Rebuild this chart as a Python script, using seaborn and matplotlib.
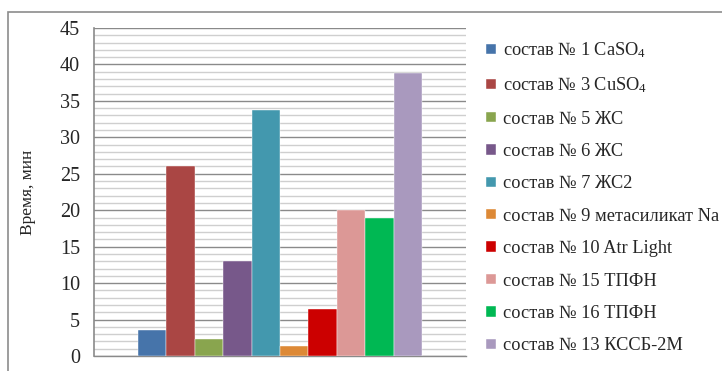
import matplotlib
matplotlib.use("Agg")
import matplotlib.pyplot as plt
from matplotlib.patches import Rectangle
from matplotlib.ticker import MultipleLocator
import seaborn as sns
import pandas as pd

# Составы и время (мин)
labels = [
    "состав № 1 CaSO$_4$",
    "состав № 3 CuSO$_4$",
    "состав № 5 ЖС",
    "состав № 6 ЖС",
    "состав № 7 ЖС2",
    "состав № 9 метасиликат Na",
    "состав № 10 Atr Light",
    "состав № 15 ТПФН",
    "состав № 16 ТПФН",
    "состав № 13 КССБ-2М",
]
times = [3.6, 26.1, 2.4, 13.1, 33.8, 1.4, 6.5, 20.0, 19.0, 38.8]
colors = ["#4674AA", "#AA4644", "#89A54E", "#77588A", "#4398AE",
          "#DD8936", "#CC0000", "#DC9896", "#00B853", "#A999BE"]
y_ticks = [0, 5, 10, 15, 20, 25, 30, 35, 40, 45]
y_label = "Время, мин"

df = pd.DataFrame({"group": [""] * len(labels), "label": labels, "time": times})

sns.set_style("white")
plt.rcParams["font.family"] = ["Liberation Serif", "DejaVu Serif"]
plt.rcParams["mathtext.fontset"] = "custom"
plt.rcParams["mathtext.rm"] = "Liberation Serif"
plt.rcParams["mathtext.it"] = "Liberation Serif:italic"

fig = plt.figure(figsize=(7.22, 3.71), dpi=100)
ax = fig.add_axes([94 / 722, 1 - 356 / 371, 372 / 722, 328 / 371])

sns.barplot(data=df, x="group", y="time", hue="label", hue_order=labels,
            palette=colors, width=0.766, dodge=True, saturation=1,
            edgecolor="white", linewidth=0.3, ax=ax, zorder=3)

ax.set_xlim(-0.5, 0.5)
ax.set_ylim(0, 45)
ax.set_yticks(y_ticks)
ax.yaxis.set_minor_locator(MultipleLocator(1))
ax.grid(axis="y", which="major", color="#8a8a8a", linewidth=1.0, zorder=1)
ax.grid(axis="y", which="minor", color="#cfcfcf", linewidth=1.0, zorder=0)
ax.set_axisbelow(True)
ax.set_xticks([])
ax.set_xlabel("")
ax.set_ylabel(y_label, fontsize=12.5, labelpad=17)
ax.tick_params(axis="y", which="major", direction="out", length=5,
               width=1, color="#8a8a8a", labelsize=14.5, pad=5)
ax.tick_params(axis="y", which="minor", length=0)
for side in ["top", "right"]:
    ax.spines[side].set_visible(False)
ax.spines["left"].set_color("#8a8a8a")
ax.spines["left"].set_linewidth(1.2)
ax.spines["bottom"].set_color("#8a8a8a")
ax.spines["bottom"].set_linewidth(1.0)

handles, hl = ax.get_legend_handles_labels()
if ax.get_legend() is not None:
    ax.get_legend().remove()
fig.legend(handles, hl, loc="upper left",
           bbox_to_anchor=(479 / 722, 1 - 33 / 371),
           frameon=False, fontsize=13.2, handlelength=0.5, handleheight=0.5,
           handletextpad=0.4, labelspacing=0.84, borderaxespad=0)

# Chart border
fig.patches.append(Rectangle((8 / 722, -0.05), 1.0, 1 - 12 / 371 + 0.05,
                             transform=fig.transFigure, fill=False,
                             edgecolor="#8c8c8c", linewidth=1.2))

fig.savefig("out.png", dpi=100)
